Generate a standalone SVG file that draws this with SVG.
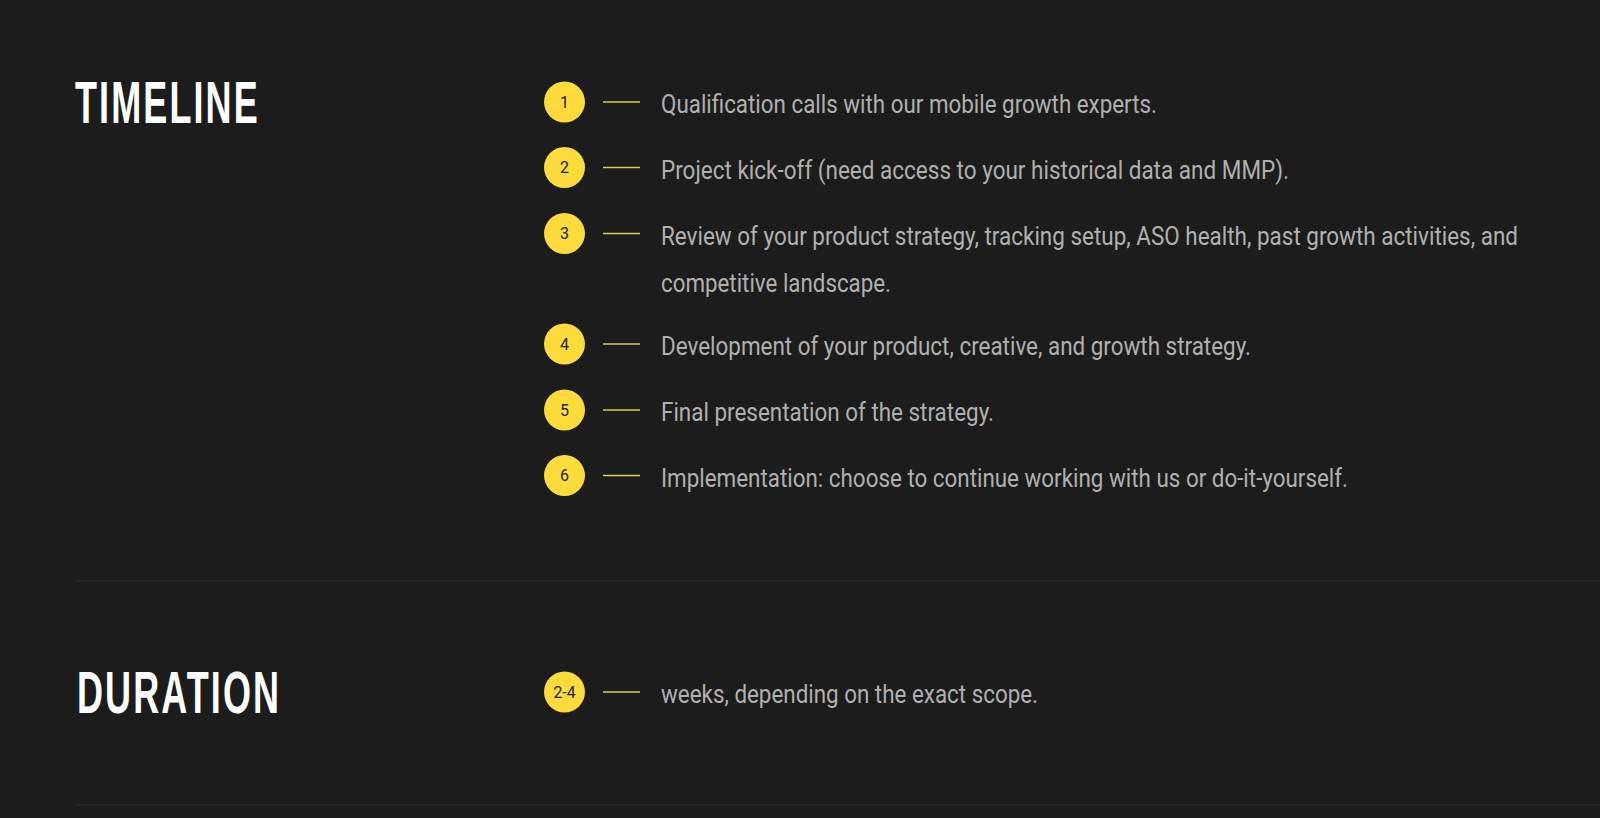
<svg xmlns="http://www.w3.org/2000/svg" width="1600" height="818" viewBox="0 0 1600 818">
<style>
.bg{fill:#1c1c1c}
.title{font-family:"Liberation Sans",Arial,sans-serif;font-weight:bold;font-size:60px;fill:#ffffff;letter-spacing:3.5px}
.txt{font-family:Roboto,"Liberation Sans",sans-serif;font-size:25px;fill:#b0b0b0}
.dot{fill:#fddb3a}
.num{font-family:Roboto,"Liberation Sans",sans-serif;font-size:16px;fill:#222222;text-anchor:middle}
.dash{stroke:#e2cb55;stroke-width:1.6}
.div{stroke:#2a2a2a;stroke-width:1.5}
</style>
<rect class="bg" x="0" y="0" width="1600" height="818"/>
<g id="headings">
<text class="title" transform="translate(75,123) scale(0.6,1)" x="0" y="0">TIMELINE</text>
<text class="title" transform="translate(77,713) scale(0.6,1)" x="0" y="0">DURATION</text>
</g>
<g id="dividers">
<line class="div" x1="76" y1="581" x2="1600" y2="581"/>
<line class="div" x1="76" y1="805" x2="1600" y2="805"/>
</g>
<g id="connectors">
<line class="dash" x1="603" y1="102" x2="640" y2="102"/>
<line class="dash" x1="603" y1="167.5" x2="640" y2="167.5"/>
<line class="dash" x1="603" y1="233.5" x2="640" y2="233.5"/>
<line class="dash" x1="603" y1="344" x2="640" y2="344"/>
<line class="dash" x1="603" y1="410" x2="640" y2="410"/>
<line class="dash" x1="603" y1="475.5" x2="640" y2="475.5"/>
<line class="dash" x1="603" y1="692" x2="640" y2="692"/>
</g>
<g id="step1">
<circle class="dot" cx="564.5" cy="102" r="20.5"/>
<text class="num" x="564.5" y="107.5">1</text>
<text class="txt" x="661" y="113" textLength="496" lengthAdjust="spacingAndGlyphs">Qualification calls with our mobile growth experts.</text>
</g>
<g id="step2">
<circle class="dot" cx="564.5" cy="167.5" r="20.5"/>
<text class="num" x="564.5" y="173">2</text>
<text class="txt" x="661" y="178.5" textLength="628" lengthAdjust="spacingAndGlyphs">Project kick-off (need access to your historical data and MMP).</text>
</g>
<g id="step3">
<circle class="dot" cx="564.5" cy="233.5" r="20.5"/>
<text class="num" x="564.5" y="239">3</text>
<text class="txt" x="661" y="244.5" textLength="857" lengthAdjust="spacingAndGlyphs">Review of your product strategy, tracking setup, ASO health, past growth activities, and</text>
<text class="txt" x="661" y="291.5" textLength="230" lengthAdjust="spacingAndGlyphs">competitive landscape.</text>
</g>
<g id="step4">
<circle class="dot" cx="564.5" cy="344" r="20.5"/>
<text class="num" x="564.5" y="349.5">4</text>
<text class="txt" x="661" y="355" textLength="590" lengthAdjust="spacingAndGlyphs">Development of your product, creative, and growth strategy.</text>
</g>
<g id="step5">
<circle class="dot" cx="564.5" cy="410" r="20.5"/>
<text class="num" x="564.5" y="415.5">5</text>
<text class="txt" x="661" y="421" textLength="333" lengthAdjust="spacingAndGlyphs">Final presentation of the strategy.</text>
</g>
<g id="step6">
<circle class="dot" cx="564.5" cy="475.5" r="20.5"/>
<text class="num" x="564.5" y="481">6</text>
<text class="txt" x="661" y="486.5" textLength="687" lengthAdjust="spacingAndGlyphs">Implementation: choose to continue working with us or do-it-yourself.</text>
</g>
<g id="duration">
<circle class="dot" cx="564.5" cy="692" r="20.5"/>
<text class="num" x="564.5" y="697.5" textLength="22" lengthAdjust="spacingAndGlyphs">2-4</text>
<text class="txt" x="661" y="703" textLength="377" lengthAdjust="spacingAndGlyphs">weeks, depending on the exact scope.</text>
</g>
</svg>
